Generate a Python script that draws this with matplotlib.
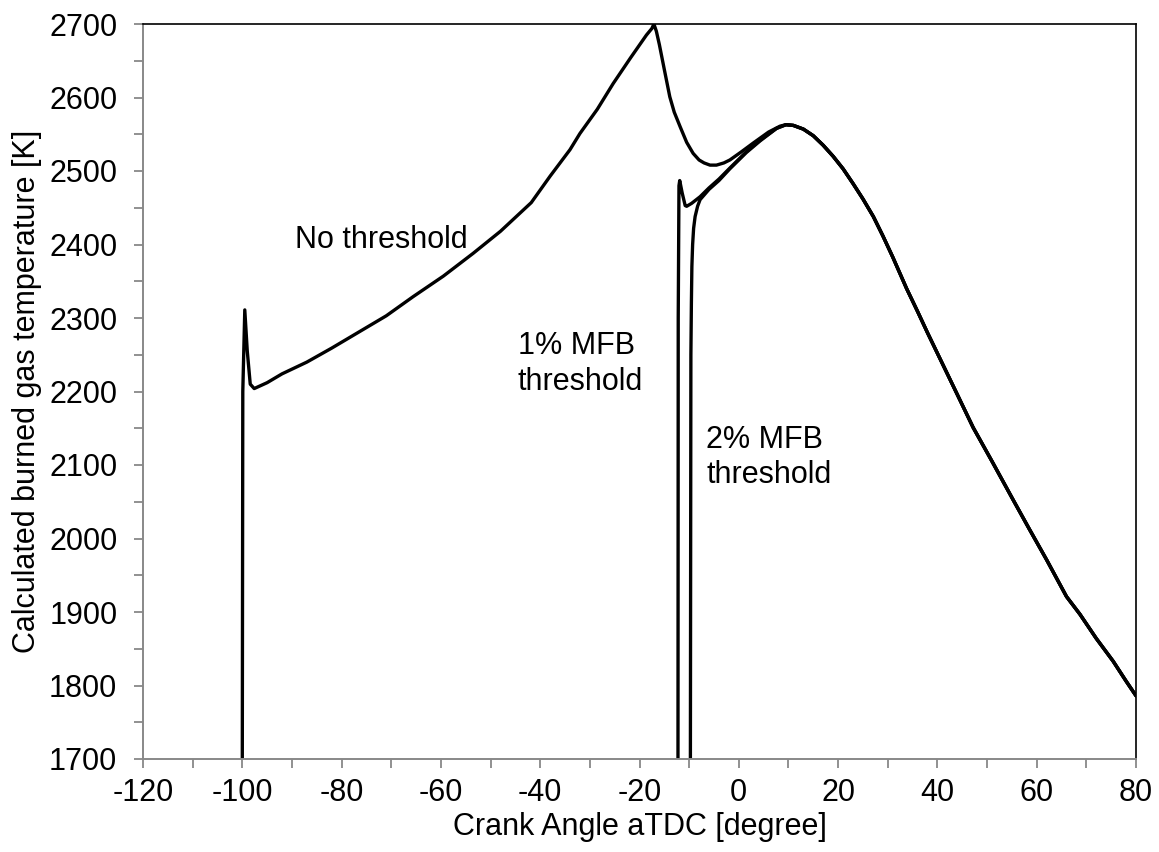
import matplotlib
matplotlib.use('Agg')
import matplotlib.pyplot as plt
from matplotlib.ticker import MultipleLocator

plt.rcParams['font.family'] = ['Liberation Sans', 'DejaVu Sans']
plt.rcParams['axes.unicode_minus'] = False

# no threshold curve (crank angle, temperature)
no_thr_x = [-100.0, -99.9, -99.5, -99.0, -98.4, -97.6, -95.0, -92.0, -87.0, -82.0, -77.0, -71.0,
            -65.6, -59.5, -53.5, -48.0, -41.8, -38.0, -34.0, -32.0, -28.5, -25.3, -21.8, -18.6,
            -17.5, -17.1, -16.6, -16.0, -15.0, -13.9, -13.0, -11.8, -10.5, -9.2, -8.0, -7.0,
            -5.8, -4.5, -3.0, -1.8, 0.5, 2.9, 6.0, 8.3]
no_thr_y = [1700, 2200, 2311, 2255, 2210, 2204, 2212, 2224, 2240, 2259, 2279, 2303,
            2329, 2357, 2388, 2418, 2457, 2493, 2529, 2551, 2584, 2619, 2654, 2685,
            2694, 2700, 2690, 2672, 2638, 2601, 2580, 2560, 2539, 2524, 2515, 2511,
            2508, 2508, 2511, 2515, 2526, 2538, 2553, 2561]

# 1% MFB threshold curve
mfb1_x = [-12.25, -12.2, -12.05, -11.9, -11.4, -10.8, -10.5, -9.5, -7.8, -6.0, -4.0, -1.8, 1.5, 4.3, 7.6]
mfb1_y = [1700, 2300, 2480, 2487, 2470, 2453, 2452, 2456, 2465, 2477, 2489, 2504, 2526, 2542, 2558]

# 2% MFB threshold curve
mfb2_x = [-9.75, -9.65, -9.55, -9.45, -9.3, -9.1, -8.8, -8.3, -7.8, -6.0, -4.0, -1.8, 1.5, 4.3, 7.6]
mfb2_y = [1700, 2250, 2320, 2370, 2400, 2422, 2438, 2452, 2461, 2475, 2487, 2503, 2525, 2541, 2558]

# common expansion part after ~9 deg
common_x = [9.5, 11.0, 13.0, 15.0, 17.0, 19.0, 21.0, 23.0, 25.0, 27.1, 29.0, 31.0, 33.8, 36.0,
            38.0, 40.5, 44.0, 47.2, 51.0, 55.3, 58.5, 62.0, 66.0, 68.7, 72.0, 75.4, 78.0, 80.0]
common_y = [2563, 2562, 2557, 2548, 2535, 2520, 2503, 2483, 2462, 2438, 2412, 2383, 2340, 2309,
            2280, 2245, 2196, 2151, 2105, 2052, 2013, 1971, 1921, 1897, 1864, 1833, 1806, 1786]

fig = plt.figure(figsize=(11.59, 8.52), dpi=100)
ax = fig.add_axes([143/1159, 93/852, 993/1159, 735/852])

for xs, ys in [(no_thr_x, no_thr_y), (mfb1_x, mfb1_y), (mfb2_x, mfb2_y)]:
    ax.plot(xs + common_x, ys + common_y, color='black', lw=2.4,
            solid_joinstyle='round', solid_capstyle='round')

ax.set_xlim(-120, 80)
ax.set_ylim(1700, 2700)
ax.xaxis.set_major_locator(MultipleLocator(20))
ax.xaxis.set_minor_locator(MultipleLocator(10))
ax.yaxis.set_major_locator(MultipleLocator(100))
ax.yaxis.set_minor_locator(MultipleLocator(50))
ax.tick_params(which='both', direction='out', length=6.5, width=1.3, color='#888888', labelsize=22)
ax.tick_params(axis='x', pad=7)
ax.tick_params(axis='y', pad=12)

for side in ['left', 'bottom']:
    ax.spines[side].set_color('#888888')
    ax.spines[side].set_linewidth(1.4)
for side in ['top', 'right']:
    ax.spines[side].set_color('black')
    ax.spines[side].set_linewidth(1.2)

ax.set_xlabel('Crank Angle aTDC [degree]', fontsize=22, labelpad=3)
ax.set_ylabel('Calculated burned gas temperature [K]', fontsize=22, labelpad=5)

ax.text(-89.4, 2406, 'No threshold', fontsize=22, ha='left', va='center')
ax.text(-44.5, 2237, '1% MFB\nthreshold', fontsize=22, ha='left', va='center', linespacing=1.25)
ax.text(-6.6, 2110, '2% MFB\nthreshold', fontsize=22, ha='left', va='center', linespacing=1.2)

fig.savefig('out.png', dpi=100)
